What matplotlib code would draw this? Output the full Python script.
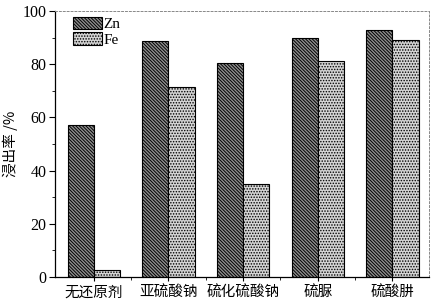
import matplotlib.pyplot as plt
import numpy as np
from matplotlib.ticker import MultipleLocator

plt.rcParams['font.family'] = ['Liberation Serif', 'Noto Sans CJK SC']
plt.rcParams['hatch.linewidth'] = 0.7

categories = ['无还原剂', '亚硫酸钠', '硫化硫酸钠', '硫脲', '硫酸肼']
zn = [57.2, 88.7, 80.6, 89.7, 92.8]
fe = [2.8, 71.3, 35.1, 81.2, 89.1]

x = np.arange(len(categories))
w = 0.35

fig = plt.figure(figsize=(4.44, 3.06), dpi=100)
ax = fig.add_axes([55/444, 1-277/306, 374/444, 266/306])

ax.bar(x - w/2, zn, w, color='#909090', edgecolor='black', linewidth=0.8,
       hatch='\\' * 10, label='Zn')
ax.bar(x + w/2, fe, w, color='#d4d4d4', edgecolor='black', linewidth=0.8,
       hatch='.' * 6, label='Fe')

ax.set_xlim(-0.52, 4.49)
ax.set_ylim(0, 100)
ax.set_xticks(x)
ax.set_xticklabels(categories, fontsize=10.5, family=['Noto Sans CJK SC'])
ax.xaxis.set_minor_locator(plt.FixedLocator(x[:-1] + 0.5))
ax.yaxis.set_major_locator(MultipleLocator(20))
ax.yaxis.set_minor_locator(MultipleLocator(10))
ax.tick_params(axis='y', which='major', labelsize=11.5, length=4, width=0.8, pad=2)
ax.tick_params(axis='y', which='minor', length=2.5, width=0.6)
ax.tick_params(axis='x', which='major', length=3, width=0.8, pad=3)
ax.tick_params(axis='x', which='minor', length=2.5, width=0.6)

ax.set_ylabel('浸出率 /%', fontsize=10.5, family=['Noto Sans CJK SC', 'DejaVu Sans'],
              labelpad=3)

for s in ['top', 'right']:
    ax.spines[s].set_linestyle((0, (2, 2)))
    ax.spines[s].set_color('#888888')
    ax.spines[s].set_linewidth(0.7)
ax.spines['left'].set_linewidth(0.9)
ax.spines['bottom'].set_linewidth(0.9)

ax.legend(loc='upper left', bbox_to_anchor=(0.04, 0.99), frameon=False,
          fontsize=11, handlelength=1.9, handleheight=0.9, labelspacing=0.05,
          handletextpad=0.1, borderaxespad=0, borderpad=0.2)

plt.savefig('out.png')
